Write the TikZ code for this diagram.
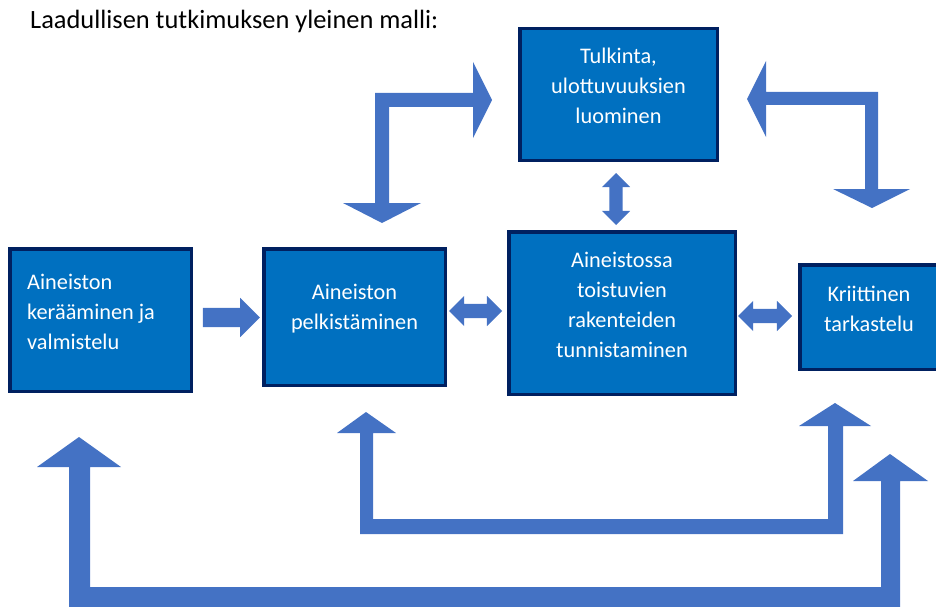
\documentclass[tikz,border=0pt]{standalone}
\usepackage{fontspec}
\setmainfont{Carlito}
\usetikzlibrary{shapes.arrows}
\definecolor{boxblue}{HTML}{0070C0}
\definecolor{boxline}{HTML}{002060}
\definecolor{arrowblue}{HTML}{4472C4}

\begin{document}
\begin{tikzpicture}[x=1pt,y=-1pt,
  box/.style={draw=boxline,line width=3.5pt,fill=boxblue,inner sep=0pt},
  txt/.style={text=white,align=center,inner sep=0pt,font=\fontsize{22.3}{30}\selectfont},
  yksi/.style={single arrow,fill=arrowblue,inner xsep=0pt,inner ysep=9.5pt,single arrow head extend=10pt,minimum height=57pt},
  kaksi/.style={double arrow,fill=arrowblue,inner xsep=0pt,inner ysep=7pt,double arrow head extend=8pt,minimum height=53pt},
  lohko/.style={fill=arrowblue}]
\useasboundingbox (0,0) rectangle (936,607);
\clip (0,0) rectangle (936,607);
\node[anchor=base west,inner sep=0pt,font=\fontsize{26.4}{30}\selectfont] (otsikko) at (30,29) {Laadullisen tutkimuksen yleinen malli:};
% laatikot
\node[box,minimum width=181.5pt,minimum height=142.5pt] (keruu) at (100.5,320) {};
\node[box,minimum width=181.5pt,minimum height=136.5pt] (pelkistys) at (354.5,317) {};
\node[box,minimum width=226.5pt,minimum height=162.5pt] (rakenteet) at (622,313) {};
\node[box,minimum width=197.5pt,minimum height=131.5pt] (tulkinta) at (618.5,94.5) {};
\node[box,minimum width=138.5pt,minimum height=104.5pt] (kriittinen) at (869,317) {};
\node[txt,anchor=west,align=left] (keruu-t) at (27,312) {Aineiston\\kerääminen ja\\valmistelu};
\node[txt,yshift=8pt] (pelkistys-t) at (pelkistys.center) {Aineiston\\pelkistäminen};
\node[txt,yshift=8pt] (rakenteet-t) at (rakenteet.center) {Aineistossa\\toistuvien\\rakenteiden\\tunnistaminen};
\node[txt,yshift=8.5pt] (tulkinta-t) at (tulkinta.center) {Tulkinta,\\ulottuvuuksien\\luominen};
\node[txt,yshift=8pt] (kriittinen-t) at (kriittinen.center) {Kriittinen\\tarkastelu};
% suorat nuolet
\node[yksi] (n12) at (226.5,317.5) {};
\node[kaksi] (n23) at (475.5,311) {};
\node[kaksi,minimum height=54pt] (n34) at (765,316) {};
\node[kaksi,rotate=90,inner ysep=6.5pt,double arrow head extend=7.5pt,minimum height=52pt] (n3t) at (616,199) {};
% taitetut nuolet
\fill[lohko] (382,223) -- (421,203) -- (389,203) -- (389,107) -- (473,107) -- (473,138) -- (492,100) -- (473,62) -- (473,93) -- (375,93) -- (375,203) -- (343,203) -- cycle;
\fill[lohko] (747,99) -- (766,61) -- (766,92) -- (878,92) -- (878,189) -- (910,189) -- (872,208) -- (833,189) -- (865,189) -- (865,105) -- (766,105) -- (766,137) -- cycle;
\fill[lohko] (366,412) -- (396,433) -- (373,433) -- (373,519) -- (828,519) -- (828,426) -- (799,426) -- (835,403) -- (871,426) -- (843,426) -- (843,534) -- (360,534) -- (360,433) -- (337,433) -- cycle;
\fill[lohko] (79,437) -- (121,467) -- (90,467) -- (90,587) -- (881,587) -- (881,481) -- (853,481) -- (890,454) -- (928,481) -- (900,481) -- (900,612) -- (69,612) -- (69,467) -- (37,467) -- cycle;
\end{tikzpicture}
\end{document}
